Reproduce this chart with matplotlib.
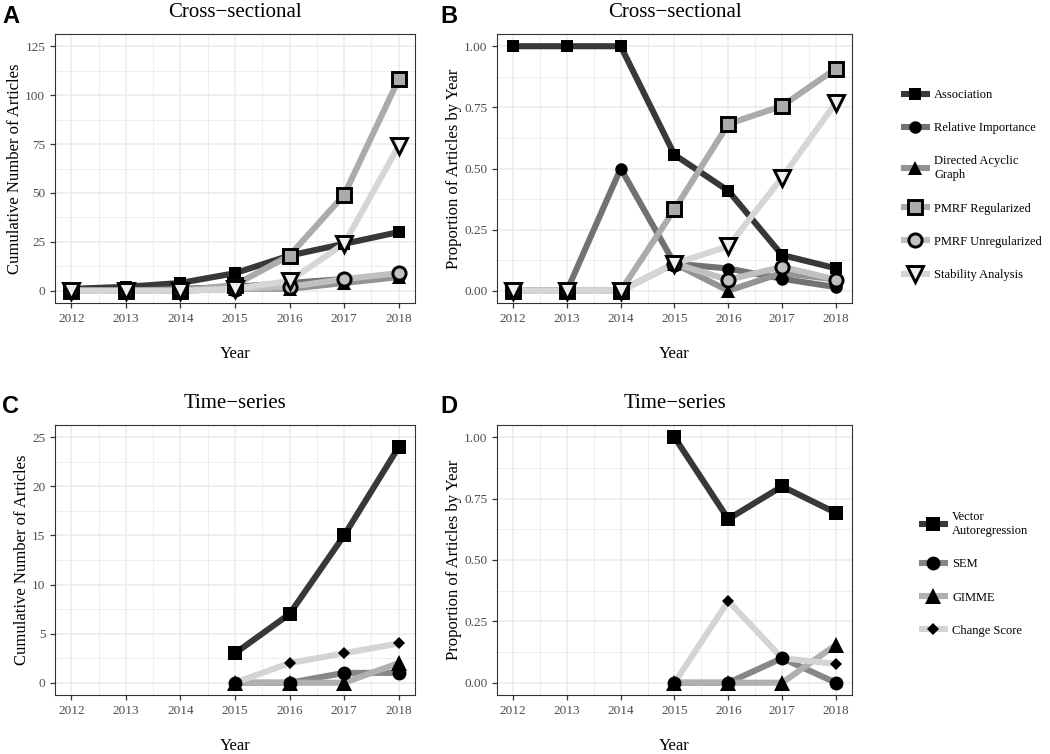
import matplotlib
matplotlib.use('Agg')
import matplotlib.pyplot as plt
from matplotlib.ticker import MultipleLocator, FormatStrFormatter
from matplotlib.lines import Line2D

# data
years = [2012, 2013, 2014, 2015, 2016, 2017, 2018]
ts_years = [2015, 2016, 2017, 2018]

cs_methods = ['Association', 'Relative Importance', 'Directed Acyclic\nGraph',
              'PMRF Regularized', 'PMRF Unregularized', 'Stability Analysis']
ts_methods = ['Vector\nAutoregression', 'SEM', 'GIMME', 'Change Score']

# cumulative counts (panel A)
cum_assoc = [1, 2, 4, 9, 18, 24, 30]
cum_relimp = [0, 0, 1, 2, 4, 6, 7]
cum_dag = [0, 0, 0, 1, 1, 4, 7]
cum_pmrf_reg = [0, 0, 0, 3, 18, 49, 108]
cum_pmrf_unreg = [0, 0, 0, 1, 2, 6, 9]
cum_stab = [0, 0, 0, 1, 5, 24, 74]

# proportions by year (panel B)
prop_assoc = [1, 1, 1, 0.556, 0.409, 0.146, 0.092]
prop_relimp = [0, 0, 0.5, 0.111, 0.091, 0.049, 0.015]
prop_dag = [0, 0, 0, 0.111, 0, 0.073, 0.046]
prop_pmrf_reg = [0, 0, 0, 0.333, 0.682, 0.756, 0.908]
prop_pmrf_unreg = [0, 0, 0, 0.111, 0.045, 0.098, 0.046]
prop_stab = [0, 0, 0, 0.111, 0.182, 0.463, 0.769]

# time-series (panels C and D)
cum_var = [3, 7, 15, 24]
cum_sem = [0, 0, 1, 1]
cum_gimme = [0, 0, 0, 2]
cum_change = [0, 2, 3, 4]
prop_var = [1, 0.667, 0.8, 0.692]
prop_sem = [0, 0, 0.1, 0]
prop_gimme = [0, 0, 0, 0.154]
prop_change = [0, 0.333, 0.1, 0.077]

cs_colors = ['#383838', '#727272', '#939393', '#ABABAB', '#C0C0C0', '#D6D6D6']
cs_markers = ['s', 'o', '^', 's', 'o', 'v']
cs_fills = ['black', 'black', 'black', '#ABABAB', '#C0C0C0', '#EEEEEE']
cs_sizes = [9, 9, 10, 9.5, 9.5, 11]
cs_edges = [0, 0, 0, 2.1, 2.1, 2.1]

ts_colors = ['#383838', '#878787', '#B0B0B0', '#D4D4D4']
ts_markers = ['s', 'o', '^', 'D']
ts_fills = ['black', 'black', 'black', 'black']
ts_sizes = [10, 10, 11, 6.5]
ts_edges = [0, 0, 0, 0]

LW = 4.4

plt.rcParams['font.family'] = ['Liberation Serif', 'DejaVu Serif']

fig = plt.figure(figsize=(10.5, 7.54), dpi=100)
W, H = 1050.0, 754.0


def make_axes(left, top, right, bottom):
    return fig.add_axes([left / W, 1 - bottom / H, (right - left) / W, (bottom - top) / H])


def style(ax, ylim, ystep, yfmt, title, ylabel):
    ax.set_xlim(2011.7, 2018.3)
    ax.set_ylim(*ylim)
    ax.xaxis.set_major_locator(MultipleLocator(1))
    ax.xaxis.set_minor_locator(MultipleLocator(0.5))
    ax.yaxis.set_major_locator(MultipleLocator(ystep))
    ax.yaxis.set_minor_locator(MultipleLocator(ystep / 2))
    ax.yaxis.set_major_formatter(FormatStrFormatter(yfmt))
    ax.grid(which='major', color='#EBEBEB', lw=1.1)
    ax.grid(which='minor', color='#EBEBEB', lw=0.6)
    ax.set_axisbelow(True)
    ax.tick_params(which='major', length=3.5, width=0.9, color='#333333',
                   labelcolor='#4D4D4D', labelsize=9.5)
    ax.tick_params(which='minor', length=0)
    for s in ax.spines.values():
        s.set_color('#333333')
        s.set_linewidth(0.8)
    ax.set_title(title, fontsize=15, pad=12)
    ax.set_xlabel('Year', fontsize=12, labelpad=15)
    ax.set_ylabel(ylabel, fontsize=12, labelpad=1.5)


def draw(ax, x, series, colors, markers, fills, sizes, edges):
    for y, c in zip(series, colors):
        ax.plot(x, y, color=c, lw=LW, solid_joinstyle='round',
                solid_capstyle='butt', zorder=2)
    for y, m, f, s, e in zip(series, markers, fills, sizes, edges):
        ax.plot(x, y, ls='none', marker=m, ms=s, mfc=f, mec='black',
                mew=e, zorder=3)


def key(colors, markers, fills, sizes, edges):
    return [Line2D([0], [0], color=c, lw=LW, solid_capstyle='butt', marker=m,
                   ms=s, mfc=f, mec='black', mew=e)
            for c, m, f, s, e in zip(colors, markers, fills, sizes, edges)]


axA = make_axes(55, 34, 415, 303)
axB = make_axes(497, 34, 852, 303)
axC = make_axes(55, 425, 415, 695)
axD = make_axes(497, 425, 852, 695)

draw(axA, years, [cum_assoc, cum_relimp, cum_dag, cum_pmrf_reg, cum_pmrf_unreg, cum_stab],
     cs_colors, cs_markers, cs_fills, cs_sizes, cs_edges)
draw(axB, years, [prop_assoc, prop_relimp, prop_dag, prop_pmrf_reg, prop_pmrf_unreg, prop_stab],
     cs_colors, cs_markers, cs_fills, cs_sizes, cs_edges)
draw(axC, ts_years, [cum_var, cum_sem, cum_gimme, cum_change],
     ts_colors, ts_markers, ts_fills, ts_sizes, ts_edges)
draw(axD, ts_years, [prop_var, prop_sem, prop_gimme, prop_change],
     ts_colors, ts_markers, ts_fills, ts_sizes, ts_edges)

style(axA, (-6.25, 131.25), 25, '%d', 'Cross\u2212sectional', 'Cumulative Number of Articles')
style(axB, (-0.05, 1.05), 0.25, '%.2f', 'Cross\u2212sectional', 'Proportion of Articles by Year')
style(axC, (-1.25, 26.25), 5, '%d', 'Time\u2212series', 'Cumulative Number of Articles')
style(axD, (-0.05, 1.05), 0.25, '%.2f', 'Time\u2212series', 'Proportion of Articles by Year')

fig.legend(handles=key(cs_colors, cs_markers, cs_fills, cs_sizes, cs_edges), labels=cs_methods,
           loc='center left', bbox_to_anchor=(901 / W, 1 - 185 / H), frameon=False,
           fontsize=9, labelspacing=1.7, handlelength=2.3, handletextpad=0.35,
           borderpad=0, borderaxespad=0)
fig.legend(handles=key(ts_colors, ts_markers, ts_fills, ts_sizes, ts_edges), labels=ts_methods,
           loc='center left', bbox_to_anchor=(919 / W, 1 - 574 / H), frameon=False,
           fontsize=9, labelspacing=1.7, handlelength=2.3, handletextpad=0.35,
           borderpad=0, borderaxespad=0)

for letter, x, y in [('A', 2, 23), ('B', 440, 23), ('C', 2, 413), ('D', 440, 413)]:
    fig.text(x / W, 1 - y / H, letter, fontsize=17, fontweight='bold',
             family='Liberation Sans', va='baseline', ha='left')

fig.savefig('out.png', dpi=100)
